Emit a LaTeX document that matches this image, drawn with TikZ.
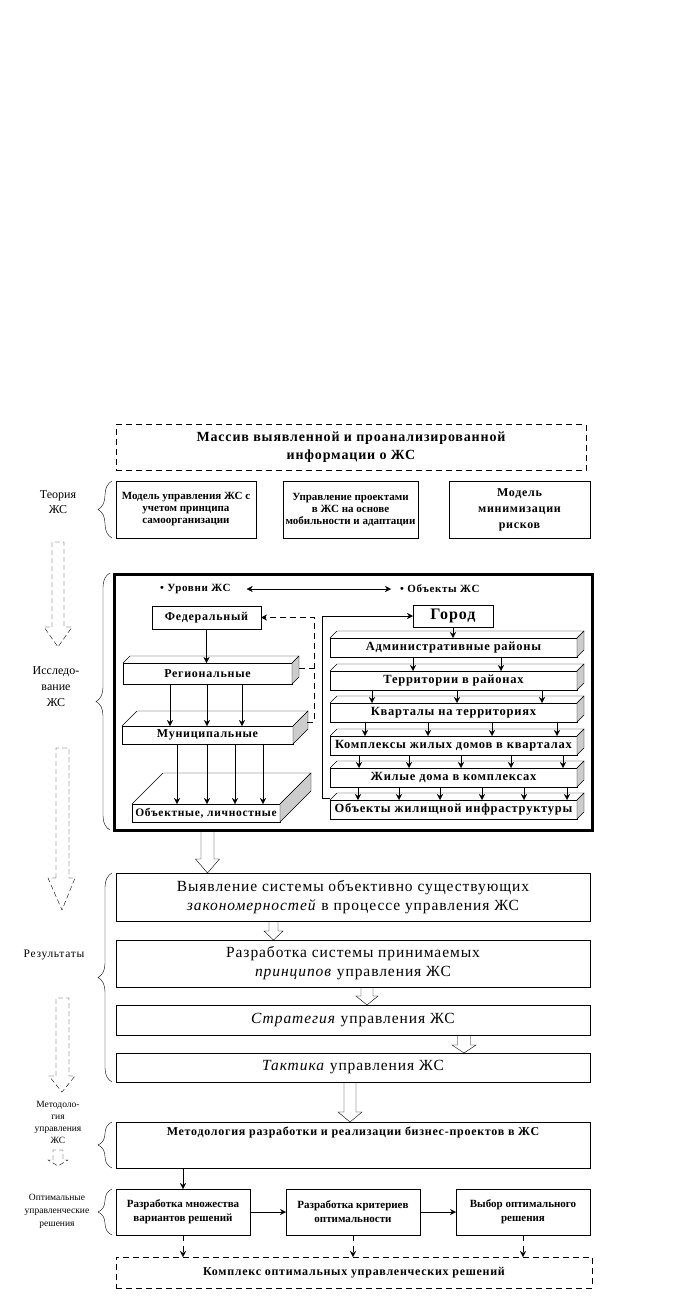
\documentclass[tikz,border=0pt]{standalone}
\usepackage{fontspec}
\setmainfont{Liberation Serif}
\newfontfamily\spc[LetterSpace=6]{Liberation Serif}
\usetikzlibrary{arrows.meta,calc,decorations.pathreplacing}

\tikzset{
  box/.style={rectangle,draw,inner sep=0pt,outer sep=0pt,align=center},
  dbox/.style={box,dash pattern=on 6pt off 4pt},
  slabtxt/.style={font=\spc\fontsize{12.5}{14}\selectfont\bfseries},
  lvltxt/.style={font=\spc\fontsize{12}{14}\selectfont\bfseries},
  restxt/.style={font=\spc\fontsize{15.5}{19}\selectfont},
  brc/.style={decorate,decoration={brace,amplitude=14pt}},
  dashpath/.style={dash pattern=on 5pt off 3pt},
}
% top and side faces of a slab drawn behind a named front face
\newcommand{\slab}[2]{%
  \draw (#1.north west) -- ++(#2,#2) -- ([shift={(#2,#2)}]#1.north east) -- (#1.north east);
  \draw[fill=gray!40] (#1.north east) -- ++(#2,#2) -- ([shift={(#2,#2)}]#1.south east) -- (#1.south east) -- cycle;
}
% hollow arrow: x, from, to, half shaft, half head, head length
\newcommand{\fatarrow}[6]{%
  \draw (#1-#4,0 |- #2.south) -- ($(#1-#4,0 |- #3.north)+(0,#6)$) -- ++(#4-#5,0) -- (#1,0 |- #3.north) -- ($(#1+#5,0 |- #3.north)+(0,#6)$) -- ++(#4-#5,0) -- (#1+#4,0 |- #2.south);
}

\begin{document}
\begin{tikzpicture}[x=1pt,y=1pt,>={Stealth[length=6pt,width=6pt]}]
\useasboundingbox (0,0) rectangle (679,-1300);
%
\node at (351,-447.5) [dbox,minimum width=470,minimum height=46,font=\spc\fontsize{14}{18}\selectfont\bfseries] (info) {Массив выявленной и проанализированной\\информации о ЖС};
%
\node at (58,-502) [align=center,font=\fontsize{12}{15}\selectfont] (ltheory) {Теория\\ЖС};
\node at (186,-509.5) [box,minimum width=140,minimum height=57,font=\fontsize{11}{12}\selectfont\bfseries] (th1) {Модель управления ЖС с\\учетом принципа\\самоорганизации};
\node at (350.5,-509.5) [box,minimum width=135,minimum height=57,font=\fontsize{11}{12}\selectfont\bfseries] (th2) {Управление проектами\\в ЖС на основе\\мобильности и адаптации};
\node at (519.5,-509.5) [box,minimum width=141,minimum height=57,font=\spc\fontsize{12}{16}\selectfont\bfseries] (th3) {Модель\\минимизации\\рисков};
\draw[brc] (112,-538) -- (112,-481);
%
\node at (353.25,-702) [box,line width=3pt,minimum width=477.5,minimum height=256] (blk) {};
\node at (56,-687) [align=center,font=\fontsize{12}{16}\selectfont] (lresearch) {Исследо-\\вание\\ЖС};
\draw[brc] (110,-830) -- (110,-573);
%
\node at (160,-589) [anchor=west,inner sep=0pt,font=\spc\fontsize{11}{14}\selectfont\bfseries] (lev) {\textbullet\ Уровни ЖС};
\node at (400,-589) [anchor=west,inner sep=0pt,font=\spc\fontsize{11}{14}\selectfont\bfseries] (objs) {\textbullet\ Объекты ЖС};
\draw[<->] ([xshift=16]lev.east) -- ([xshift=-9]objs.west);
%
\node at (206.5,-617.5) [box,lvltxt,minimum width=109,minimum height=23] (fed) {Федеральный};
\node at (207.5,-673.5) [box,lvltxt,minimum width=169,minimum height=21] (reg) {Региональные};
\node at (207.5,-735) [box,lvltxt,minimum width=171,minimum height=18] (mun) {Муниципальные};
\node at (206,-813) [box,minimum width=148,minimum height=18,font=\spc\fontsize{11.5}{13}\selectfont\bfseries] (lic) {Объектные, личностные};
\slab{reg}{7}
\slab{mun}{15}
\slab{lic}{31}
%
\draw[->] (fed.south) -- (fed.south |- reg.north);
\draw[->] (170,0 |- reg.south) -- (170,0 |- mun.north);
\draw[->] (207,0 |- reg.south) -- (207,0 |- mun.north);
\draw[->] (242,0 |- reg.south) -- (242,0 |- mun.north);
\draw[->] (177,0 |- mun.south) -- (177,0 |- lic.north);
\draw[->] (207,0 |- mun.south) -- (207,0 |- lic.north);
\draw[->] (235,0 |- mun.south) -- (235,0 |- lic.north);
\draw[->] (263,0 |- mun.south) -- (263,0 |- lic.north);
%
\draw[dash pattern=on 6pt off 4pt] ([shift={(7,5)}]reg.east) -- ++(15,0);
\draw[dash pattern=on 6pt off 4pt,->] ([shift={(14,13)}]mun.east) -- ++(7,0) |- (fed.east);
%
\node at (453,-616) [box,minimum width=80,minimum height=22,font=\spc\fontsize{16}{17}\selectfont\bfseries] (gor) {Город};
\node at (453.5,-647.5) [box,slabtxt,minimum width=247,minimum height=19] (adm) {Административные районы};
\node at (453.5,-680.5) [box,slabtxt,minimum width=247,minimum height=19] (ter) {Территории в районах};
\node at (453.5,-712.5) [box,slabtxt,minimum width=247,minimum height=19] (kva) {Кварталы на территориях};
\node at (453.5,-745.5) [box,slabtxt,minimum width=247,minimum height=19] (kom) {Комплексы жилых домов в кварталах};
\node at (453.5,-777.5) [box,slabtxt,minimum width=247,minimum height=19] (dom) {Жилые дома в комплексах};
\node at (453.5,-809.5) [box,slabtxt,minimum width=247,minimum height=19] (inf) {Объекты жилищной инфраструктуры};
\slab{adm}{7}
\slab{ter}{7}
\slab{kva}{7}
\slab{kom}{7}
\slab{dom}{7}
\slab{inf}{7}
%
\draw[->] ([yshift=2]inf.north west) -- ++(-8,0) |- (gor.west);
\draw[->] (gor.south) -- (gor.south |- adm.north);
%
\draw[->] (413,0 |- adm.south) -- (413,0 |- ter.north);
\draw[->] (501,0 |- adm.south) -- (501,0 |- ter.north);
%
\draw[->] (372,0 |- ter.south) -- (372,0 |- kva.north);
\draw[->] (457,0 |- ter.south) -- (457,0 |- kva.north);
\draw[->] (542,0 |- ter.south) -- (542,0 |- kva.north);
%
\draw[->] (365,0 |- kva.south) -- (365,0 |- kom.north);
\draw[->] (428,0 |- kva.south) -- (428,0 |- kom.north);
\draw[->] (492,0 |- kva.south) -- (492,0 |- kom.north);
\draw[->] (557,0 |- kva.south) -- (557,0 |- kom.north);
%
\draw[->] (359,0 |- kom.south) -- (359,0 |- dom.north);
\draw[->] (409,0 |- kom.south) -- (409,0 |- dom.north);
\draw[->] (461,0 |- kom.south) -- (461,0 |- dom.north);
\draw[->] (511,0 |- kom.south) -- (511,0 |- dom.north);
\draw[->] (563,0 |- kom.south) -- (563,0 |- dom.north);
%
\draw[->] (358,0 |- dom.south) -- (358,0 |- inf.north);
\draw[->] (399,0 |- dom.south) -- (399,0 |- inf.north);
\draw[->] (440,0 |- dom.south) -- (440,0 |- inf.north);
\draw[->] (482,0 |- dom.south) -- (482,0 |- inf.north);
\draw[->] (524,0 |- dom.south) -- (524,0 |- inf.north);
\draw[->] (567,0 |- dom.south) -- (567,0 |- inf.north);
%
\node at (54,-955) [font=\spc\fontsize{11.5}{14}\selectfont] (lresults) {Результаты};
\node at (353,-897) [box,restxt,minimum width=474,minimum height=48] (zakon) {Выявление системы объективно существующих\\\textit{закономерностей} в процессе управления ЖС};
\node at (353,-963.5) [box,restxt,minimum width=474,minimum height=47] (princ) {Разработка системы принимаемых\\\textit{принципов} управления ЖС};
\node at (353,-1020) [box,restxt,minimum width=474,minimum height=30] (strat) {\textit{Стратегия} управления ЖС};
\node at (353,-1067.5) [box,restxt,minimum width=474,minimum height=29] (takt) {\textit{Тактика} управления ЖС};
\draw[brc] (112,-1082) -- (112,-873);
%
\node at (58,-1122) [align=center,font=\fontsize{9.5}{12}\selectfont] (lmethod) {Методоло-\\гия\\управления\\ЖС};
\node at (353,-1145) [box,minimum width=474,minimum height=46,text height=9,text depth=28,font=\spc\fontsize{12}{14}\selectfont\bfseries] (meth) {Методология разработки и реализации бизнес-проектов в ЖС};
\draw[brc] (112,-1168) -- (112,-1122);
%
\fatarrow{207.5}{blk}{zakon}{6.5}{12}{14}
\fatarrow{273.5}{zakon}{princ}{4.5}{9.5}{9}
\fatarrow{367}{princ}{strat}{6}{11}{9}
\fatarrow{464}{strat}{takt}{6.5}{12}{8}
\fatarrow{350}{takt}{meth}{6}{12}{10}
%
\node at (57,-1211) [align=center,font=\fontsize{9.5}{13}\selectfont] (loptimal) {Оптимальные\\управленческие\\решения};
\node at (183,-1212) [box,minimum width=134,minimum height=46,font=\fontsize{11}{14}\selectfont\bfseries] (var) {Разработка множества\\вариантов решений};
\node at (353,-1212) [box,minimum width=134,minimum height=46,font=\fontsize{11}{14}\selectfont\bfseries] (crit) {Разработка критериев\\оптимальности};
\node at (523,-1212) [box,minimum width=134,minimum height=46,font=\fontsize{11}{14}\selectfont\bfseries] (choice) {Выбор оптимального\\решения};
\draw[brc] (112,-1235) -- (112,-1189);
%
\node at (354,-1272.5) [dbox,minimum width=476,minimum height=31,font=\spc\fontsize{12}{14}\selectfont\bfseries] (cmplx) {Комплекс оптимальных управленческих решений};
%
\draw[->] (var.north |- meth.south) -- (var.north);
\draw[->] (var) -- (crit);
\draw[->] (crit) -- (choice);
\draw[dash pattern=on 6pt off 5pt,->] (var.south) -- (var.south |- cmplx.north);
\draw[dash pattern=on 6pt off 5pt,->] (crit.south) -- (crit.south |- cmplx.north);
\draw[dash pattern=on 6pt off 5pt,->] (choice.south) -- (choice.south |- cmplx.north);
%
% dashed hollow arrows on the left
\draw[dashpath] (52,-627) -- (52,-542) -- (64,-542) -- (64,-627) -- (72,-627) -- (58,-647) -- (44,-627) -- cycle;
\draw[dashpath] (56,-878) -- (56,-748) -- (69,-748) -- (69,-878) -- (75,-878) -- (62,-910) -- (48,-878) -- cycle;
\draw[dashpath] (56,-1076) -- (56,-998) -- (69,-998) -- (69,-1076) -- (75,-1076) -- (62,-1092) -- (49,-1076) -- cycle;
\draw[dashpath] (53,-1160) -- (53,-1150) -- (63,-1150) -- (63,-1160) -- (68,-1160) -- (58,-1166) -- (48,-1160) -- cycle;
\end{tikzpicture}
\end{document}
